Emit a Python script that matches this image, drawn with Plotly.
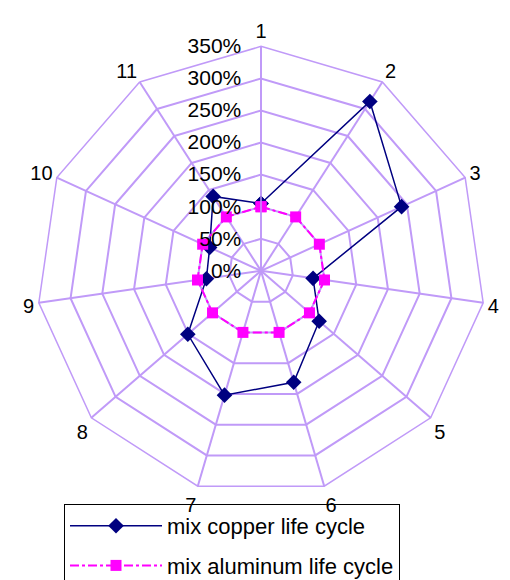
import plotly.graph_objects as go

categories = ["1", "2", "3", "4", "5", "6", "7", "8", "9", "10", "11"]
copper = [105, 314, 241, 82, 120, 181, 202, 151, 86, 88, 138]
aluminum = [100, 100, 100, 100, 100, 100, 100, 100, 100, 100, 100]
radial_ticks = [0, 50, 100, 150, 200, 250, 300, 350]
radial_labels = [f"{v}%\u00a0\u00a0" for v in radial_ticks]

GRID = "#C09AF8"
FONT = "Liberation Sans, Arial, sans-serif"

fig = go.Figure()
fig.add_trace(go.Scatterpolar(
    r=copper + copper[:1], theta=categories + categories[:1],
    mode="lines+markers", name="mix copper life cycle",
    line=dict(color="#000080", width=1.5),
    marker=dict(symbol="diamond", size=12, color="#000080"),
    legendgroup="a",
))
fig.add_trace(go.Scatterpolar(
    r=aluminum + aluminum[:1], theta=categories + categories[:1],
    mode="lines+markers", name="mix aluminum life cycle",
    line=dict(color="#FF00FF", width=2, dash="dashdot"),
    marker=dict(symbol="square", size=11, color="#FF00FF"),
    legendgroup="b",
))

fig.update_layout(
    width=510, height=580,
    margin=dict(l=0, r=0, t=0, b=0),
    paper_bgcolor="white",
    font=dict(family=FONT, size=20, color="black"),
    polar=dict(
        domain=dict(x=[25/510, 481/510], y=[85/580, 541/580]),
        bgcolor="white",
        gridshape="linear",
        angularaxis=dict(
            type="category", categoryarray=categories,
            rotation=90, direction="clockwise",
            showline=True, linecolor=GRID, linewidth=1.5,
            gridcolor=GRID, gridwidth=1.5,
            ticks="", tickfont=dict(size=20),
        ),
        radialaxis=dict(
            range=[0, 350], tickvals=radial_ticks, ticktext=radial_labels,
            angle=90, tickangle=90, side="counterclockwise",
            showline=True, linecolor=GRID, linewidth=1.5,
            gridcolor=GRID, gridwidth=1.5,
            ticks="", tickfont=dict(size=21),
        ),
    ),
    showlegend=True,
    legend=dict(
        x=56/510, y=(580-504)/580, xanchor="left", yanchor="top",
        bordercolor="black", borderwidth=1, bgcolor="rgba(255,255,255,0)",
        font=dict(size=22), tracegroupgap=8, traceorder="grouped",
        itemwidth=92,
    ),
)

fig.write_html("out.html")
